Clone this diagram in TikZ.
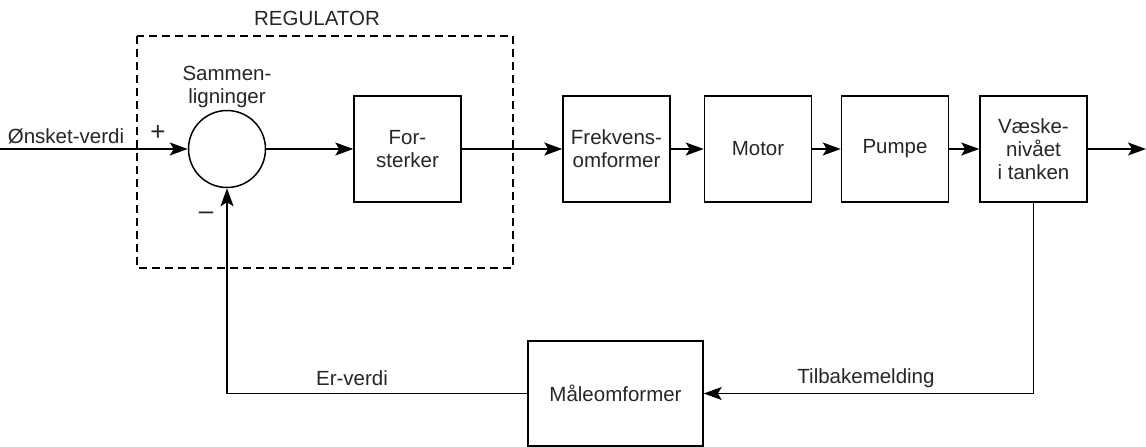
\documentclass[tikz,border=0pt]{standalone}
\usepackage{fontspec}
\setmainfont{Liberation Sans}
\usetikzlibrary{arrows.meta}
\begin{document}
\begin{tikzpicture}[x=1pt,y=-1pt,
  every node/.style={font=\fontsize{20.5}{23}\selectfont, text=black!85},
  blk/.style={draw, line width=1.5pt, minimum width=107pt, minimum height=106pt, inner sep=0pt, align=center},
  sumc/.style={draw, circle, line width=1.5pt, minimum size=77pt, inner sep=0pt},
  lbl/.style={inner sep=0pt, align=center},
  sign/.style={inner sep=0pt, font=\fontsize{26}{28}\selectfont},
  conn/.style={line width=1.3pt, -{Stealth[length=18pt,width=13pt,inset=4pt]}},
  regbox/.style={line width=1.2pt, dash pattern=on 8pt off 5pt}
]
\useasboundingbox (0,0) rectangle (1146,447);
% regulator dashed box
\draw[regbox] (137,36) rectangle (513,268);
\node[lbl] (reg) at (317,18) {REGULATOR};
% summing junction
\node[sumc] (sum) at (227,149) {};
\node[lbl] (sumlbl) at (227,87) {Sammen-\\ligninger};
\node[sign] (plus) at (158,133) {+};
\node[sign] (minus) at (206,216) {\textendash};
% blocks
\node[blk] (fors) at (407.5,149) {For-\\sterker};
\node[blk] (frek) at (616.5,149) {Frekvens-\\omformer};
\node[blk] (motor) at (758,149) {Motor};
\node[blk] (pumpe) at (895,149) {Pumpe};
\node[blk] (vaeske) at (1033.5,149) {Væske-\\nivået\\i tanken};
\node[blk, minimum width=175pt, minimum height=105pt] (maale) at (615.5,393.5) {Måleomformer};
% coordinates
\coordinate (in) at (0,149);
\coordinate (out) at (1146,149);
\coordinate (fbr) at (vaeske.south |- maale.east);
\coordinate (fbl) at (sum.south |- maale.west);
% labels
\node[lbl] (inlbl) at (66,136) {Ønsket-verdi};
\node[lbl] (erlbl) at (352,378) {Er-verdi};
\node[lbl] (tilb) at (866,378) {Tilbakemelding};
% connectors
\draw[conn] (in) -- (sum.west);
\draw[conn] (sum.east) -- (fors.west);
\draw[conn] (fors.east) -- (frek.west);
\draw[conn] (frek.east) -- (motor.west);
\draw[conn] (motor.east) -- (pumpe.west);
\draw[conn] (pumpe.east) -- (vaeske.west);
\draw[conn] (vaeske.east) -- (out);
\draw[conn] (vaeske.south) -- (fbr) -- (maale.east);
\draw[conn] (maale.west) -- (fbl) -- (sum.south);
\end{tikzpicture}
\end{document}
